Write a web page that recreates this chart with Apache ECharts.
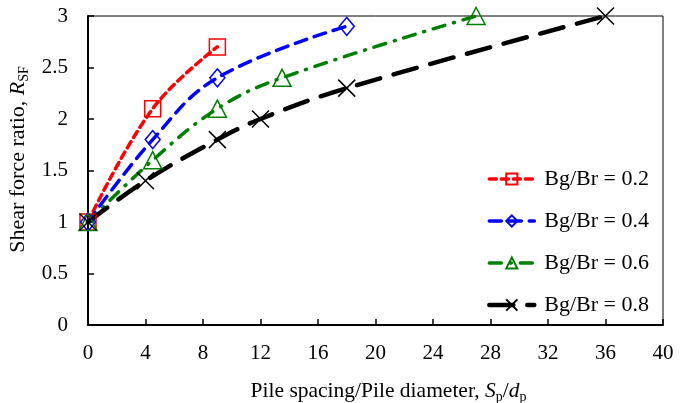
<!DOCTYPE html>
<html><head><meta charset="utf-8">
<script src="https://cdn.jsdelivr.net/npm/echarts@6/dist/echarts.min.js"></script>
<style>html,body{margin:0;padding:0;background:#fff}#c{width:690px;height:403px}</style>
</head><body><div id="c"></div>
<script>
var xTicks = [0, 4, 8, 12, 16, 20, 24, 28, 32, 36, 40];
var yTicks = [0, 0.5, 1, 1.5, 2, 2.5, 3];
var names = ['Bg/Br = 0.2', 'Bg/Br = 0.4', 'Bg/Br = 0.6', 'Bg/Br = 0.8'];
var x02 = [0, 4.5, 9];
var y02 = [1, 2.1, 2.7];
var x04 = [0, 4.5, 9, 18];
var y04 = [1, 1.8, 2.4, 2.9];
var x06 = [0, 4.5, 9, 13.5, 27];
var y06 = [1, 1.6, 2.1, 2.4, 3.0];
var x08 = [0, 4, 9, 12, 18, 36];
var y08 = [1, 1.4, 1.8, 2.0, 2.3, 3.0];

function pairs(xs, ys){ return xs.map(function(x,i){ return [x, ys[i]]; }); }
var FONT = 'Liberation Serif';
var chart = echarts.init(document.getElementById('c'), null, {renderer:'canvas'});
var xPath = 'path://M0,0L10,10M10,0L0,10';
function mk(name, data, color, dash, width, symbol, size){
  return {
    name: name, type: 'line', data: data, smooth: 0.4,
    symbol: symbol, symbolSize: size,
    showAllSymbol: true,
    lineStyle: {color: color, width: width, type: dash, cap: 'round'},
    itemStyle: {color: 'rgba(255,255,255,0)', borderColor: color, borderWidth: 1.5},
    emphasis: {disabled: true},
    z: 2
  };
}
function richOf(fs){
  return {
    n: {fontFamily: FONT, fontSize: fs, color: '#000', lineHeight: 25},
    i: {fontFamily: FONT, fontSize: fs, fontStyle: 'italic', color: '#000', lineHeight: 25},
    s: {fontFamily: FONT, fontSize: 14, color: '#000', lineHeight: 14, verticalAlign: 'bottom', padding: [11,0,0,0]}
  };
}
chart.setOption({
  animation: false,
  backgroundColor: '#fff',
  textStyle: {fontFamily: FONT, color: '#000'},
  grid: {left: 88, right: 27, top: 16, bottom: 78, show: true, borderColor: '#000', borderWidth: 1,
         containLabel: false, outerBoundsMode: 'none'},
  legend: {
    orient: 'vertical', right: 36, top: 163,
    itemWidth: 45, itemHeight: 14, itemGap: 20,
    lineStyle: {width: 'inherit'},
    textStyle: {fontFamily: FONT, fontSize: 22, color: '#000', padding: [0,0,0,5]},
    data: names
  },
  xAxis: {
    type: 'value', min: xTicks[0], max: xTicks[xTicks.length-1], interval: 4,
    axisLine: {show: true, lineStyle: {color: '#000', width: 2}},
    axisTick: {show: true, inside: true, length: 6, lineStyle: {color: '#000', width: 1.5}},
    axisLabel: {fontFamily: FONT, fontSize: 21, color: '#000', margin: 18},
    splitLine: {show: false},
    nameLocation: 'middle', nameGap: 54,
    name: '{n|Pile spacing/Pile diameter, }{i|S}{s|p}{n|/}{i|d}{s|p}',
    nameTextStyle: {rich: richOf(21.5), padding: [0,0,0,26]}
  },
  yAxis: {
    type: 'value', min: yTicks[0], max: yTicks[yTicks.length-1], interval: 0.5,
    axisLine: {show: true, lineStyle: {color: '#000', width: 2}},
    axisTick: {show: true, inside: true, length: 6, lineStyle: {color: '#000', width: 1.5}},
    axisLabel: {fontFamily: FONT, fontSize: 21, color: '#000', margin: 20},
    splitLine: {show: false},
    nameLocation: 'middle', nameGap: 41,
    name: '{n|Shear force ratio, }{i|R}{s|SF}',
    nameTextStyle: {rich: richOf(22), padding: [0,0,0,22]}
  },
  series: [
    mk(names[0], pairs(x02, y02), '#ff0000', [7,5], 3.5, 'rect', 16),
    mk(names[1], pairs(x04, y04), '#0000ff', [12,8], 3.5, 'diamond', [15,18]),
    mk(names[2], pairs(x06, y06), '#008000', [12,9,1,9], 3.5, 'triangle', [18,17]),
    mk(names[3], pairs(x08, y08), '#000000', [24,14], 4.5, xPath, 17)
  ]
});
</script></body></html>
